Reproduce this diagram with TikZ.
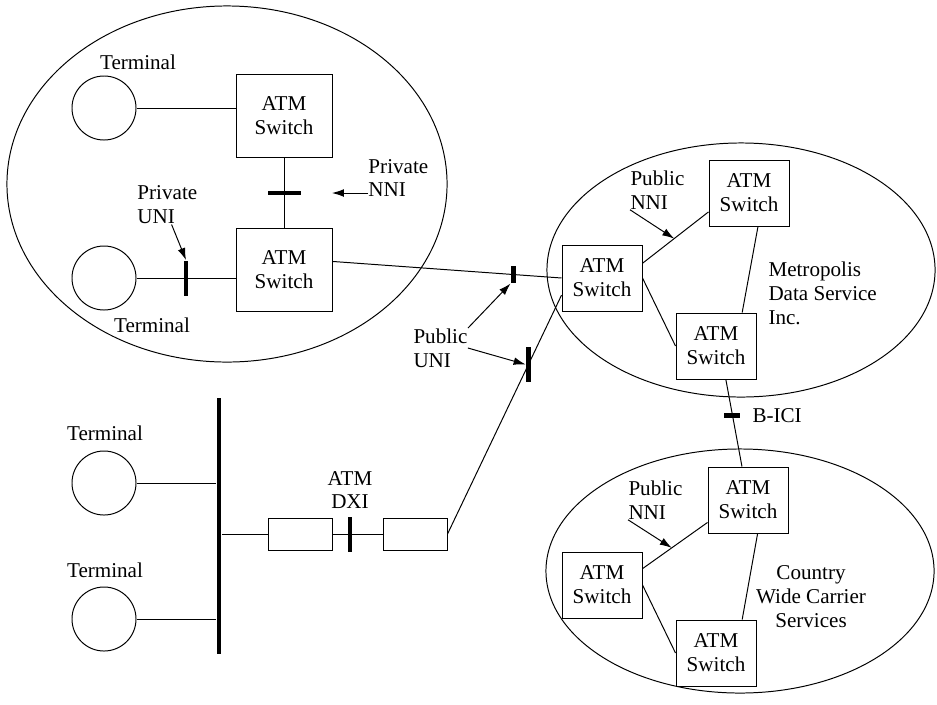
\documentclass[tikz,border=0pt]{standalone}
\usepackage{fontspec}
\setmainfont{Liberation Serif}
\usetikzlibrary{shapes.geometric, arrows.meta, positioning}

\begin{document}
\begin{tikzpicture}[
  x=0.025cm, y=-0.025cm,
  line width=0.7pt,
  font=\fontsize{15}{17}\selectfont,
  net/.style={draw,ellipse,inner sep=0pt},
  term/.style={draw,circle,minimum size=1.6cm,inner sep=0pt},
  bigsw/.style={draw,minimum width=2.4cm,minimum height=2.075cm,
                align=center,inner sep=2pt},
  sw/.style={draw,minimum width=2cm,minimum height=1.65cm,
             align=center,inner sep=2pt},
  dxi/.style={draw,minimum width=1.6cm,minimum height=0.8cm},
  vbar/.style={fill,inner sep=0pt,minimum width=3.4pt,minimum height=#1},
  vbar/.default=0.875cm,
  hbar/.style={fill,inner sep=0pt,minimum height=3.4pt,minimum width=#1},
  hbar/.default=0.825cm,
  lbl/.style={align=left,inner sep=0pt,anchor=west},
  arr/.style={-{Latex[length=8.5pt,width=5.5pt]}}
]
  \useasboundingbox (0,0) rectangle (937,704);

  % private network
  \node[net,minimum width=11cm,minimum height=8.9cm] (priv) at (227,184) {};
  \node[term] (t1) at (104,108) {};
  \node[term] (t2) at (104,278) {};
  \node at (138,62) {Terminal};
  \node at (152,325) {Terminal};
  \node[bigsw] (sw1) at (284,116) {ATM\\Switch};
  \node[bigsw] (sw2) at (284,270) {ATM\\Switch};
  \draw (t1.east) -- (t1.east -| sw1.west);
  \draw (t2.east) -- node[vbar] (puni) {} (t2.east -| sw2.west);
  \draw (sw1.south) -- node[hbar] (pnni) {} (sw2.north);
  \node[lbl] (lpuni) at (137,205) {Private\\UNI};
  \node[lbl] (lpnni) at (368,178) {Private\\NNI};
  \draw[arr] ([xshift=3pt]lpuni.south) -- (puni.north);
  \draw[arr,shorten >=22pt] (lpnni.west |- pnni) -- (pnni.east);

  % metropolis network
  \node[net,minimum width=9.7cm,minimum height=6.35cm] (metro) at (741,270) {};
  \node[sw] (ma) at (602,278) {ATM\\Switch};
  \node[sw] (mb) at (749,193) {ATM\\Switch};
  \node[sw] (mc) at (716,346) {ATM\\Switch};
  \draw (ma.20) -- coordinate[pos=0.48] (mab) (mb.205);
  \draw (ma.east) -- (mc.west);
  \draw (mb.-75) -- (mc.52);
  \node[lbl] (lmnni) at (630,190) {Public\\NNI};
  \draw[arr] (lmnni.south west) -- (mab);
  \node[lbl] at (768,293) {Metropolis\\Data Service\\Inc.};

  % country network
  \node[net,minimum width=9.7cm,minimum height=6.1cm] (ctry) at (740,571) {};
  \node[sw] (cd) at (748,500) {ATM\\Switch};
  \node[sw] (ce) at (602,585) {ATM\\Switch};
  \node[sw] (cf) at (716,653) {ATM\\Switch};
  \draw (ce.22) -- coordinate[pos=0.45] (cde) (cd.209);
  \draw (ce.east) -- (cf.west);
  \draw (cd.-74) -- (cf.52);
  \node[lbl] (lcnni) at (628,500) {Public\\NNI};
  \draw[arr] (lcnni.south west) -- (cde);
  \node[align=center] at (811,597) {Country\\Wide Carrier\\Services};

  % B-ICI between carriers
  \draw ([xshift=7pt]mc.south) -- node[hbar=0.4cm,pos=0.41] (bici) {}
    ([xshift=-4.3pt]cd.north);
  \node[lbl] at (752,416) {B-ICI};

  % bus, terminals and DXI
  \node[vbar=6.375cm] (bus) at (219,526) {};
  \node[term] (t3) at (104,483) {};
  \node[term] (t4) at (104,619) {};
  \node at (105,433) {Terminal};
  \node at (105,570) {Terminal};
  \foreach \t in {t3,t4}
    \draw (\t.east) -- (\t.east -| bus.west);
  \node[dxi] (b1) at (300,534) {};
  \node[dxi] (b2) at (415,534) {};
  \draw (bus.east |- b1.west) -- (b1.west);
  \draw (b1.east) -- node[vbar,pos=0.35] (dxibar) {} (b2.west);
  \node[align=center] at (350,490) {ATM\\DXI};

  % public UNI links
  \draw (sw2.10) -- node[vbar=0.425cm,pos=0.79] (puni1) {} (ma.west);
  \draw (b2.east) -- node[vbar,pos=0.71] (puni2) {} (ma.203);
  \node[lbl] (lpuni2) at (413,348) {Public\\UNI};
  \draw[arr] (lpuni2.north east) -- (puni1.south west);
  \draw[arr] (lpuni2.east) -- (puni2.west);
\end{tikzpicture}
\end{document}
